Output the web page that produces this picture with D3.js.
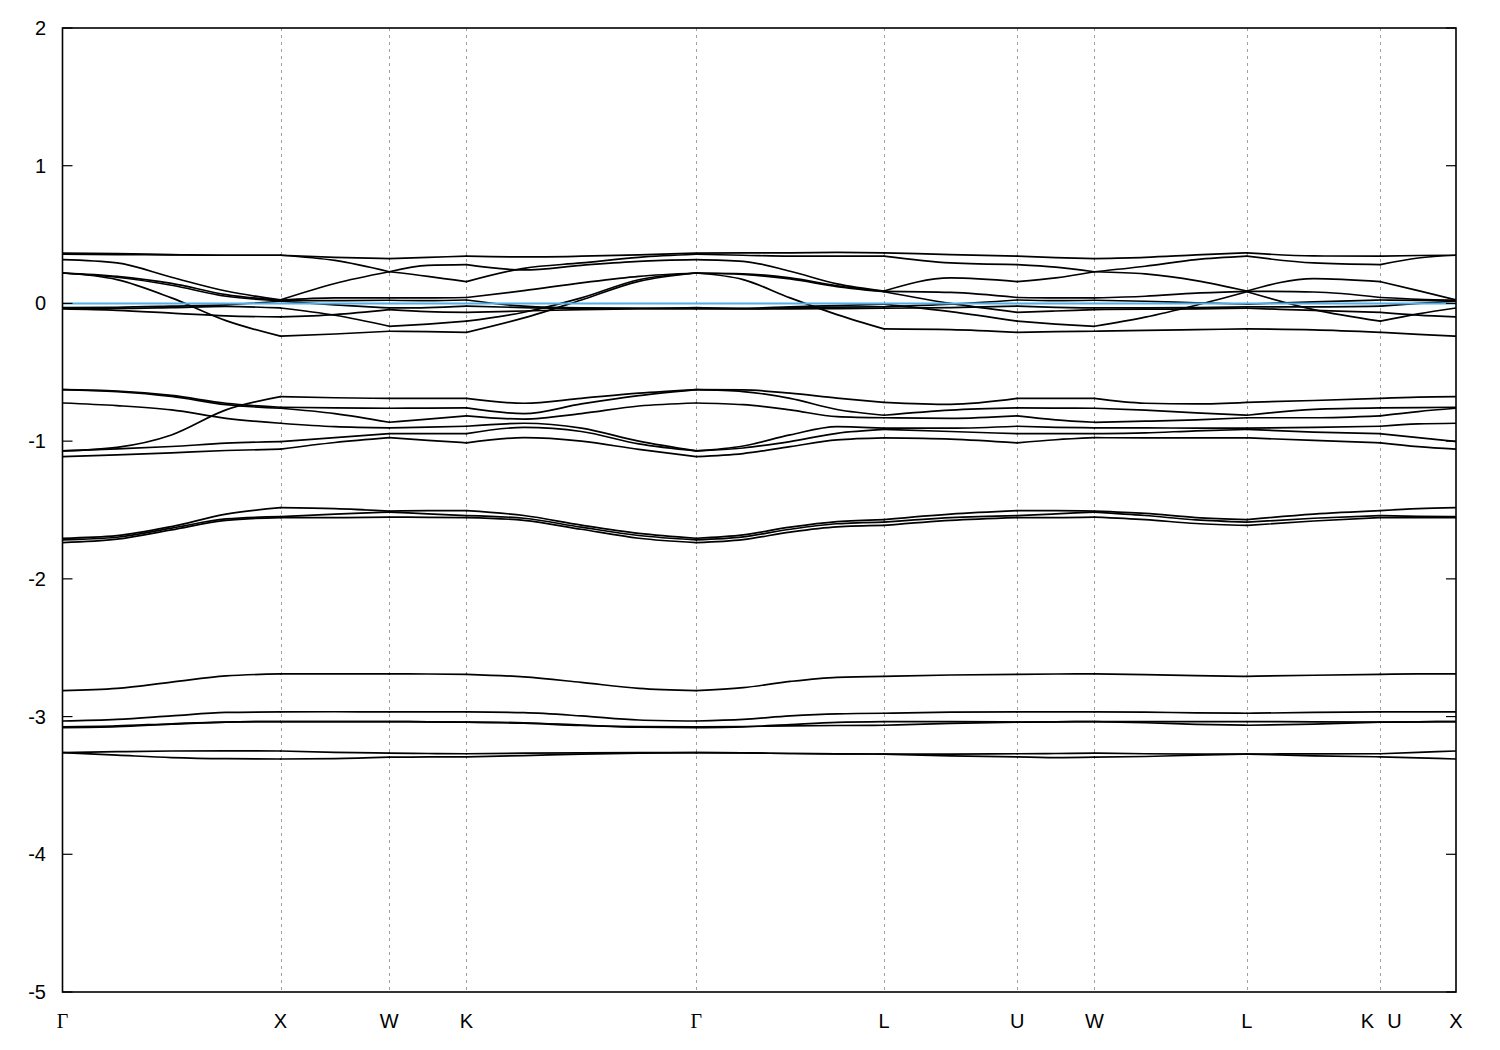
<!DOCTYPE html>
<html><head><meta charset="utf-8">
<script src="https://cdn.jsdelivr.net/npm/d3@7"></script>
<style>html,body{margin:0;padding:0;background:#fff;}</style>
</head><body>
<svg id="chart" width="1500" height="1050"></svg>
<script>
// ---- data ----
const kTicks  = [0, 1.000, 1.499, 1.853, 2.907, 3.768, 4.379, 4.733, 5.433, 6.045, 6.392];
const kLabels = ['Γ','X','W','K','Γ','L','U','W','L','K|U','X'];
const yTicks  = [-5, -4, -3, -2, -1, 0, 1, 2];
const fermiLevel = 0;

// each segment: rows of band energies, sampled evenly from one tick to the next
const segGX = [
 [0.365,0.362,0.355,0.350,0.350],[0.357,0.355,0.352,0.350,0.350],[0.318,0.294,0.190,0.090,0.026],
 [0.221,0.197,0.146,0.064,0.023],[0.221,0.190,0.132,0.052,0.020],[0.221,0.173,0.040,-0.125,-0.238],
 [-0.030,-0.028,-0.020,-0.010,0.016],[-0.035,-0.036,-0.030,-0.022,-0.033],[-0.040,-0.050,-0.070,-0.090,-0.098],
 [-0.626,-0.636,-0.668,-0.725,-0.754],[-0.626,-0.640,-0.675,-0.735,-0.761],[-0.723,-0.742,-0.773,-0.834,-0.870],
 [-1.071,-1.045,-0.955,-0.773,-0.677],[-1.071,-1.056,-1.039,-1.015,-1.003],[-1.112,-1.100,-1.085,-1.068,-1.058],
 [-1.705,-1.686,-1.620,-1.530,-1.483],[-1.717,-1.698,-1.632,-1.565,-1.548],[-1.737,-1.712,-1.644,-1.575,-1.555],
 [-2.812,-2.795,-2.750,-2.705,-2.690],[-3.032,-3.020,-2.995,-2.970,-2.966],[-3.080,-3.073,-3.055,-3.040,-3.036],
 [-3.075,-3.068,-3.052,-3.040,-3.036],[-3.262,-3.255,-3.250,-3.249,-3.250],[-3.262,-3.280,-3.298,-3.306,-3.308]
];
const segXW = [
 [0.350,0.335,0.326],[0.350,0.312,0.230],[0.026,0.145,0.230],[0.023,0.040,0.040],[0.020,0.020,0.023],
 [0.016,-0.010,-0.033],[-0.033,-0.086,-0.166],[-0.098,-0.081,-0.045],[-0.238,-0.222,-0.202],
 [-0.677,-0.685,-0.690],[-0.754,-0.758,-0.761],[-0.761,-0.800,-0.863],[-0.870,-0.895,-0.903],
 [-1.003,-0.975,-0.945],[-1.058,-1.010,-0.975],
 [-1.483,-1.490,-1.508],[-1.548,-1.530,-1.515],[-1.555,-1.555,-1.552],
 [-2.690,-2.690,-2.690],[-2.966,-2.965,-2.966],[-3.036,-3.036,-3.036],[-3.036,-3.036,-3.036],
 [-3.250,-3.260,-3.265],[-3.308,-3.305,-3.295]
];
const segWK = [
 [0.326,0.335,0.343],[0.230,0.197,0.158],[0.230,0.277,0.282],[0.040,0.040,0.043],[0.023,0.020,0.025],
 [-0.033,-0.030,-0.020],[-0.045,-0.060,-0.065],[-0.166,-0.150,-0.129],[-0.202,-0.205,-0.210],
 [-0.690,-0.690,-0.690],[-0.761,-0.760,-0.759],[-0.863,-0.840,-0.816],[-0.903,-0.898,-0.892],
 [-0.945,-0.946,-0.946],[-0.975,-0.995,-1.012],
 [-1.508,-1.505,-1.505],[-1.515,-1.528,-1.541],[-1.552,-1.553,-1.555],
 [-2.690,-2.691,-2.693],[-2.966,-2.966,-2.966],[-3.036,-3.038,-3.040],[-3.036,-3.038,-3.040],
 [-3.265,-3.268,-3.270],[-3.295,-3.293,-3.292]
];
const segKG = [
 [0.343,0.338,0.343,0.352,0.365],[0.158,0.255,0.294,0.335,0.357],[0.282,0.243,0.277,0.306,0.318],
 [0.043,0.093,0.149,0.197,0.221],[-0.129,-0.064,0.040,0.172,0.221],[-0.210,-0.105,0.025,0.160,0.221],
 [0.025,-0.020,-0.033,-0.035,-0.035],[-0.020,-0.030,-0.035,-0.035,-0.030],[-0.065,-0.055,-0.045,-0.040,-0.040],
 [-0.690,-0.725,-0.689,-0.652,-0.626],[-0.759,-0.800,-0.730,-0.670,-0.626],[-0.816,-0.840,-0.800,-0.745,-0.723],
 [-0.892,-0.870,-0.905,-1.000,-1.071],[-0.946,-0.900,-0.930,-1.020,-1.071],[-1.012,-0.975,-1.000,-1.060,-1.112],
 [-1.505,-1.540,-1.610,-1.670,-1.705],[-1.541,-1.560,-1.625,-1.685,-1.717],[-1.555,-1.575,-1.640,-1.705,-1.737],
 [-2.693,-2.712,-2.752,-2.795,-2.812],[-2.966,-2.972,-2.995,-3.025,-3.032],[-3.040,-3.045,-3.062,-3.077,-3.080],
 [-3.040,-3.048,-3.065,-3.073,-3.075],[-3.270,-3.266,-3.263,-3.262,-3.262],[-3.292,-3.283,-3.272,-3.265,-3.262]
];
const segGL = [
 [0.365,0.367,0.367,0.370,0.367],[0.357,0.350,0.343,0.343,0.343],[0.318,0.306,0.234,0.142,0.090],
 [0.221,0.215,0.185,0.128,0.088],[0.221,0.210,0.178,0.122,0.085],[0.221,0.173,0.040,-0.081,-0.185],
 [-0.030,-0.035,-0.025,-0.015,-0.005],[-0.035,-0.038,-0.030,-0.027,-0.025],[-0.040,-0.040,-0.040,-0.038,-0.035],
 [-0.626,-0.628,-0.652,-0.688,-0.718],[-0.626,-0.640,-0.690,-0.770,-0.812],[-0.723,-0.735,-0.773,-0.822,-0.830],
 [-1.071,-1.035,-0.955,-0.894,-0.906],[-1.071,-1.050,-1.003,-0.943,-0.915],[-1.112,-1.090,-1.040,-0.991,-0.976],
 [-1.705,-1.680,-1.625,-1.585,-1.570],[-1.717,-1.695,-1.640,-1.600,-1.588],[-1.737,-1.715,-1.660,-1.622,-1.612],
 [-2.812,-2.790,-2.745,-2.715,-2.708],[-3.032,-3.020,-2.995,-2.980,-2.976],[-3.080,-3.075,-3.058,-3.042,-3.036],
 [-3.075,-3.072,-3.068,-3.065,-3.063],[-3.262,-3.264,-3.268,-3.271,-3.272],[-3.262,-3.264,-3.268,-3.271,-3.272]
];
const segLU = [
 [0.367,0.355,0.343],[0.343,0.294,0.282],[0.090,0.185,0.158],[0.088,0.080,0.043],[0.085,0.000,-0.065],
 [-0.005,-0.060,-0.129],[-0.025,-0.005,0.025],[-0.035,-0.030,-0.020],[-0.185,-0.190,-0.210],
 [-0.718,-0.733,-0.690],[-0.812,-0.775,-0.759],[-0.830,-0.834,-0.816],[-0.906,-0.906,-0.892],
 [-0.915,-0.930,-0.946],[-0.976,-0.985,-1.012],
 [-1.570,-1.530,-1.505],[-1.588,-1.555,-1.541],[-1.612,-1.575,-1.555],
 [-2.708,-2.698,-2.693],[-2.976,-2.968,-2.966],[-3.036,-3.036,-3.040],[-3.063,-3.050,-3.040],
 [-3.272,-3.272,-3.270],[-3.272,-3.285,-3.292]
];
const segUW = [
 [0.343,0.333,0.326],[0.282,0.263,0.230],[0.158,0.185,0.230],[0.043,0.040,0.040],[0.025,0.020,0.023],
 [-0.020,-0.028,-0.033],[-0.065,-0.055,-0.045],[-0.129,-0.150,-0.166],[-0.210,-0.205,-0.202],
 [-0.690,-0.690,-0.690],[-0.759,-0.760,-0.761],[-0.816,-0.845,-0.863],[-0.892,-0.900,-0.903],
 [-0.946,-0.946,-0.945],[-1.012,-0.990,-0.975],
 [-1.505,-1.505,-1.508],[-1.541,-1.528,-1.515],[-1.555,-1.555,-1.552],
 [-2.693,-2.691,-2.690],[-2.966,-2.966,-2.966],[-3.040,-3.038,-3.036],[-3.040,-3.038,-3.036],
 [-3.270,-3.268,-3.265],[-3.292,-3.298,-3.295]
];
const segWL = [
 [0.326,0.335,0.352,0.367],[0.230,0.270,0.318,0.343],[0.230,0.214,0.166,0.090],[0.040,0.052,0.075,0.088],
 [-0.166,-0.100,-0.013,0.085],[0.023,0.016,0.005,-0.005],[-0.033,-0.033,-0.030,-0.025],
 [-0.045,-0.042,-0.040,-0.035],[-0.202,-0.195,-0.190,-0.185],
 [-0.690,-0.725,-0.730,-0.718],[-0.761,-0.775,-0.795,-0.812],[-0.863,-0.855,-0.845,-0.830],
 [-0.903,-0.903,-0.906,-0.906],[-0.945,-0.940,-0.925,-0.915],[-0.975,-0.976,-0.976,-0.976],
 [-1.508,-1.525,-1.555,-1.570],[-1.515,-1.540,-1.572,-1.588],[-1.552,-1.570,-1.598,-1.612],
 [-2.690,-2.695,-2.703,-2.708],[-2.966,-2.968,-2.973,-2.976],[-3.036,-3.036,-3.036,-3.036],
 [-3.036,-3.045,-3.056,-3.063],[-3.265,-3.270,-3.272,-3.272],[-3.295,-3.290,-3.280,-3.272]
];
const segLK = [
 [0.367,0.345,0.343],[0.343,0.294,0.282],[0.090,0.180,0.158],[0.088,0.083,0.043],[0.085,-0.045,-0.129],
 [-0.005,0.012,0.025],[-0.025,-0.025,-0.020],[-0.035,-0.050,-0.065],[-0.185,-0.192,-0.210],
 [-0.718,-0.705,-0.690],[-0.812,-0.770,-0.759],[-0.830,-0.830,-0.816],[-0.906,-0.900,-0.892],
 [-0.915,-0.935,-0.946],[-0.976,-0.995,-1.012],
 [-1.570,-1.530,-1.505],[-1.588,-1.560,-1.541],[-1.612,-1.580,-1.555],
 [-2.708,-2.700,-2.693],[-2.976,-2.970,-2.966],[-3.036,-3.038,-3.040],[-3.063,-3.055,-3.040],
 [-3.272,-3.271,-3.270],[-3.272,-3.285,-3.292]
];
const segUX = [
 [0.343,0.348,0.350],[0.282,0.330,0.350],[0.158,0.093,0.026],[0.043,0.030,0.023],[0.025,0.022,0.020],
 [-0.020,0.000,0.016],[-0.129,-0.076,-0.033],[-0.065,-0.085,-0.098],[-0.210,-0.225,-0.238],
 [-0.690,-0.680,-0.677],[-0.759,-0.757,-0.754],[-0.816,-0.785,-0.761],[-0.892,-0.875,-0.870],
 [-0.946,-0.975,-1.003],[-1.012,-1.040,-1.058],
 [-1.505,-1.490,-1.483],[-1.541,-1.546,-1.548],[-1.555,-1.555,-1.555],
 [-2.693,-2.690,-2.690],[-2.966,-2.966,-2.966],[-3.040,-3.038,-3.036],[-3.040,-3.038,-3.036],
 [-3.270,-3.260,-3.250],[-3.292,-3.300,-3.308]
];
const segments = [segGX, segXW, segWK, segKG, segGL, segLU, segUW, segWL, segLK, segUX];

// ---- layout / style ----
const L = 62.5, R = 1456, T = 28, B = 992;

const svg = d3.select('#chart');
svg.append('rect').attr('width',1500).attr('height',1050).attr('fill','#fff');

const x = d3.scaleLinear().domain([kTicks[0], kTicks[kTicks.length-1]]).range([L, R]);
const y = d3.scaleLinear().domain([-5, 2]).range([B, T]);

svg.append('clipPath').attr('id','clip').append('rect')
  .attr('x', L).attr('y', T).attr('width', R-L).attr('height', B-T);

// dashed high-symmetry lines
svg.append('g').selectAll('line').data(kTicks.slice(1, -1)).join('line')
  .attr('x1', d => Math.round(x(d)) + 0.5).attr('x2', d => Math.round(x(d)) + 0.5)
  .attr('y1', T).attr('y2', B)
  .attr('stroke', '#a0a0a0').attr('stroke-width', 1).attr('stroke-dasharray', '3,4');

// bands
const line = d3.line().x(d => x(d[0])).y(d => y(d[1])).curve(d3.curveMonotoneX);
const bandG = svg.append('g').attr('clip-path','url(#clip)');
segments.forEach((rows, i) => {
  const k0 = kTicks[i], k1 = kTicks[i+1];
  rows.forEach(row => {
    const n = row.length;
    const pts = row.map((e, j) => [k0 + (k1 - k0) * j / (n - 1), e]);
    bandG.append('path').attr('d', line(pts))
      .attr('fill','none').attr('stroke','#000').attr('stroke-width',1.7)
      .attr('stroke-linejoin','round').attr('stroke-linecap','round');
  });
});

// Fermi level
svg.append('line').attr('x1', L).attr('x2', R).attr('y1', y(fermiLevel)).attr('y2', y(fermiLevel))
  .attr('stroke', '#4fb0e6').attr('stroke-width', 2);

// frame
svg.append('rect').attr('x', L).attr('y', T).attr('width', R-L).attr('height', B-T)
  .attr('fill','none').attr('stroke','#000').attr('stroke-width',1.6);

// y ticks and labels
const yg = svg.append('g');
yTicks.forEach(t => {
  yg.append('line').attr('x1', L).attr('x2', L+10).attr('y1', y(t)).attr('y2', y(t)).attr('stroke','#000').attr('stroke-width',1.2);
  yg.append('line').attr('x1', R).attr('x2', R-10).attr('y1', y(t)).attr('y2', y(t)).attr('stroke','#000').attr('stroke-width',1.2);
  yg.append('text').attr('x', 46).attr('y', y(t) + 7).attr('text-anchor','end')
    .attr('font-family','Liberation Sans, Arial, sans-serif').attr('font-size', 20).text(t);
});

// x labels (a "A|B" label marks a path break: both names beside one tick)
const xg = svg.append('g');
kTicks.forEach((k, i) => {
  const parts = kLabels[i].split('|');
  const offs = parts.length === 2 ? [-13, 14] : [0];
  parts.forEach((p, j) => {
    xg.append('text').attr('x', x(k) + offs[j]).attr('y', 1028).attr('text-anchor','middle')
      .attr('font-family', p === 'Γ' ? 'Liberation Serif, Times New Roman, serif' : 'Liberation Sans, Arial, sans-serif')
      .attr('font-size', 20).text(p);
  });
});
</script>
</body></html>
